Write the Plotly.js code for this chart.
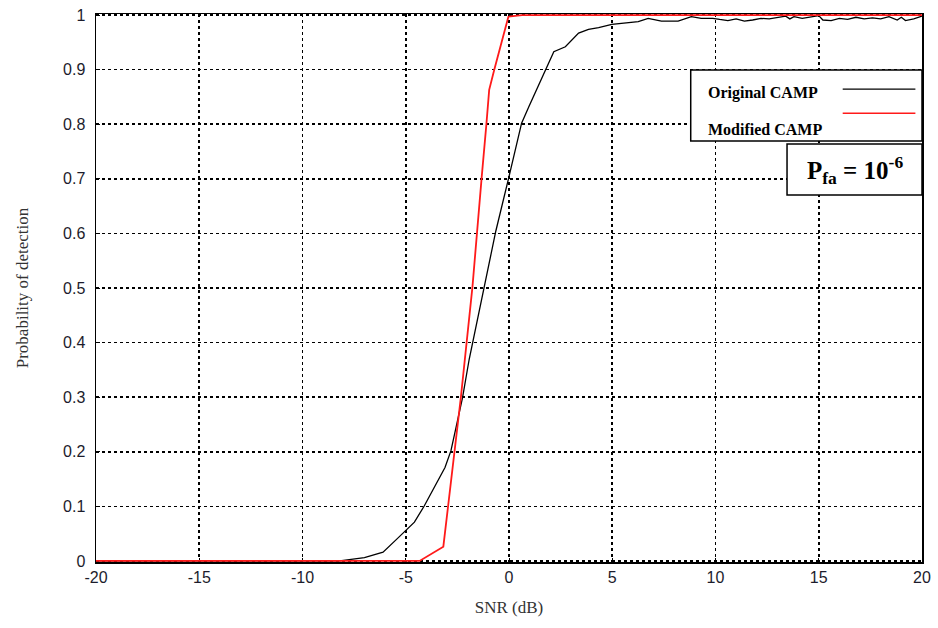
<!DOCTYPE html>
<html>
<head>
<meta charset="utf-8">
<script src="https://cdn.plot.ly/plotly-3.0.1.min.js"></script>
<style>html,body{margin:0;padding:0;background:#fff;}#chart{width:938px;height:628px;}</style>
</head>
<body>
<div id="chart"></div>
<script>
// Original CAMP
const snrOriginal = [-20, -8.2, -7, -6.1, -5.46, -4.58, -4.1, -3.1, -2.81, -2.25, -1.93, -1.32, -1.2, -0.64, 0, 0.61, 0.96, 1.77, 2.17, 2.73, 3.37, 3.85, 4.34, 4.98, 5.62, 6.26, 6.74, 7.38, 8.19, 8.83, 9.31, 9.87,
  10.2, 10.6, 11, 11.4, 11.8, 12.2, 12.6, 13, 13.4, 13.6, 13.8, 14.2, 14.6, 15, 15.2, 15.6, 16, 16.4, 16.8, 17.2, 17.6, 18, 18.4, 18.8, 19, 19.2, 19.6, 20];
const pdOriginal = [0, 0, 0.006, 0.016, 0.039, 0.071, 0.101, 0.171, 0.202, 0.299, 0.369, 0.479, 0.502, 0.604, 0.704, 0.802, 0.832, 0.899, 0.933, 0.942, 0.967, 0.974, 0.977, 0.983, 0.985, 0.988, 0.994, 0.989, 0.989, 0.997, 0.994, 0.994,
  0.992, 0.990, 0.993, 0.989, 0.991, 0.994, 0.993, 0.995, 0.998, 0.993, 0.997, 0.994, 0.996, 0.999, 0.991, 0.990, 0.994, 0.992, 0.996, 0.993, 0.995, 0.993, 0.997, 0.991, 0.996, 0.990, 0.993, 0.998];
// Modified CAMP
const snrModified = [-20, -4.33, -3.18, -2.94, -2.33, -1.77, -1.56, -1.32, -1.09, -0.96, -0.72, -0.03, 0.63, 20];
const pdModified = [0, 0, 0.026, 0.101, 0.30, 0.502, 0.604, 0.704, 0.802, 0.863, 0.899, 0.997, 1, 1];

const xTicks = [-20, -15, -10, -5, 0, 5, 10, 15, 20];
const yTicks = [0, 0.1, 0.2, 0.3, 0.4, 0.5, 0.6, 0.7, 0.8, 0.9, 1];
const yTickLabels = ['0', '0.1', '0.2', '0.3', '0.4', '0.5', '0.6', '0.7', '0.8', '0.9', '1'];
const seriesNames = ['Original CAMP', 'Modified CAMP'];
const seriesColors = ['#000000', '#ff1a1a'];

const traces = [
  {x: snrOriginal, y: pdOriginal, name: seriesNames[0], type: 'scatter', mode: 'lines', line: {color: seriesColors[0], width: 1.3}},
  {x: snrModified, y: pdModified, name: seriesNames[1], type: 'scatter', mode: 'lines', line: {color: seriesColors[1], width: 1.8}}
];

const tickFont = {family: 'Liberation Sans, Arial, sans-serif', size: 16, color: '#1c1c2c'};
const serif = 'Liberation Serif, Times New Roman, serif';

const layout = {
  width: 938, height: 628,
  margin: {l: 96, r: 16, t: 14, b: 66},
  paper_bgcolor: '#fff', plot_bgcolor: '#fff',
  showlegend: false,
  xaxis: {
    range: [-20, 20], tickvals: xTicks, ticktext: xTicks.map(String),
    showgrid: true, gridcolor: '#000', gridwidth: 1.6, griddash: '3px,3px',
    zeroline: false, showline: true, linecolor: '#000', linewidth: 1.5, mirror: true,
    ticks: 'inside', ticklen: 4, tickcolor: '#000', layer: 'below traces',
    tickfont: tickFont,
    title: {text: 'SNR (dB)', font: {family: serif, size: 17, color: '#333'}, standoff: 16}
  },
  yaxis: {
    range: [-0.002, 1.002], tickvals: yTicks, ticktext: yTickLabels,
    showgrid: true, gridcolor: '#000', gridwidth: 1.6, griddash: '3px,3px',
    zeroline: false, showline: true, linecolor: '#000', linewidth: 1.5, mirror: true,
    ticks: 'inside', ticklen: 4, tickcolor: '#000', layer: 'below traces',
    tickfont: tickFont, ticklabelstandoff: 6,
    title: {text: 'Probability of detection', font: {family: serif, size: 17, color: '#333'}, standoff: 30}
  },
  shapes: [
    {type: 'rect', xref: 'paper', yref: 'paper', x0: 0.72, x1: 1.0, y0: 0.7682, y1: 0.8978, line: {color: '#000', width: 1.5}, fillcolor: '#fff', layer: 'above'},
    {type: 'rect', xref: 'paper', yref: 'paper', x0: 0.8366, x1: 1.0, y0: 0.6697, y1: 0.7628, line: {color: '#000', width: 1.5}, fillcolor: '#fff', layer: 'above'},
    {type: 'line', xref: 'paper', yref: 'paper', x0: 0.904, x1: 0.992, y0: 0.863, y1: 0.863, line: {color: seriesColors[0], width: 1.3}, layer: 'above'},
    {type: 'line', xref: 'paper', yref: 'paper', x0: 0.904, x1: 0.992, y0: 0.819, y1: 0.819, line: {color: seriesColors[1], width: 1.6}, layer: 'above'}
  ],
  annotations: [
    {xref: 'paper', yref: 'paper', x: 0.739, y: 0.855, xanchor: 'left', yanchor: 'middle', showarrow: false,
     text: '<b>' + seriesNames[0] + '</b>', font: {family: serif, size: 16, color: '#000'}},
    {xref: 'paper', yref: 'paper', x: 0.739, y: 0.79, xanchor: 'left', yanchor: 'middle', showarrow: false,
     text: '<b>' + seriesNames[1] + '</b>', font: {family: serif, size: 16, color: '#000'}},
    {xref: 'paper', yref: 'paper', x: 0.919, y: 0.716, xanchor: 'center', yanchor: 'middle', showarrow: false,
     text: '<b>P<sub>fa</sub> = 10<sup>-6</sup></b>', font: {family: serif, size: 25, color: '#000'}}
  ]
};

Plotly.newPlot('chart', traces, layout, {displayModeBar: false, staticPlot: true});
</script>
</body>
</html>
